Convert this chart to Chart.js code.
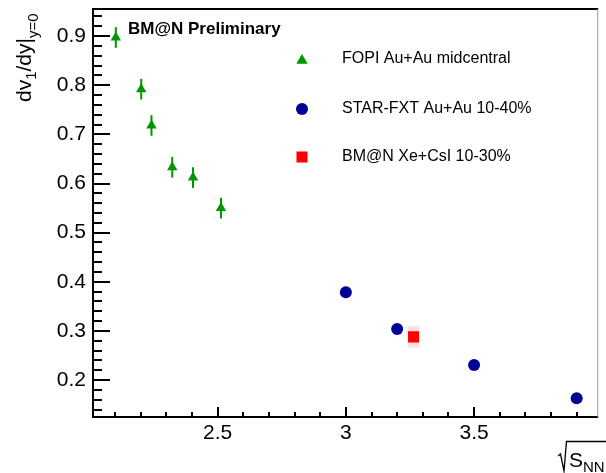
<!DOCTYPE html>
<html><head><meta charset="utf-8">
<script src="https://cdn.jsdelivr.net/npm/chart.js@4/dist/chart.umd.min.js"></script>
<style>html,body{margin:0;padding:0;background:#fff;overflow:hidden}#wrap{width:606px;height:473px;position:relative}</style>
</head><body><div id="wrap"><canvas id="c" width="606" height="473"></canvas></div>
<script>
// ---- data ----
const seriesNames = ["FOPI Au+Au midcentral", "STAR-FXT Au+Au 10-40%", "BM@N Xe+CsI 10-30%"];
const fopiX = [2.103, 2.202, 2.242, 2.323, 2.404, 2.513];
const fopiY = [0.897, 0.792, 0.718, 0.633, 0.612, 0.550];
const fopiErr = [0.021, 0.021, 0.021, 0.021, 0.021, 0.021];
const starX = [3.0, 3.2, 3.5, 3.9];
const starY = [0.379, 0.304, 0.231, 0.163];
const bmnX = [3.264];
const bmnY = [0.288];
const bmnSysX = [0.023];
const bmnSysY = [0.022];
const xTickLabels = [2.5, 3, 3.5];
const yTickLabels = [0.2, 0.3, 0.4, 0.5, 0.6, 0.7, 0.8, 0.9];
const titleText = "BM@N Preliminary";

const GREEN = "rgb(0,150,0)", NAVY = "rgb(0,0,150)", RED = "rgb(255,0,0)";
const FONT = "'Liberation Sans', Arial, Helvetica, sans-serif";

const toPts = (xs, ys) => xs.map((x, i) => ({x: x, y: ys[i]}));

const decor = {
  id: "decor",
  beforeDatasetsDraw(chart) {
    const ctx = chart.ctx, xs = chart.scales.x, ys = chart.scales.y;
    ctx.save();
    ctx.fillStyle = "rgba(255,0,0,0.12)";
    bmnX.forEach((x, i) => {
      const l = xs.getPixelForValue(x - bmnSysX[i]), r = xs.getPixelForValue(x + bmnSysX[i]);
      const t = ys.getPixelForValue(bmnY[i] + bmnSysY[i]), b = ys.getPixelForValue(bmnY[i] - bmnSysY[i]);
      ctx.fillRect(l, t, r - l, b - t);
    });
    ctx.strokeStyle = GREEN; ctx.lineWidth = 2;
    fopiX.forEach((x, i) => {
      const px = xs.getPixelForValue(x);
      ctx.beginPath();
      ctx.moveTo(px, ys.getPixelForValue(fopiY[i] + fopiErr[i]));
      ctx.lineTo(px, ys.getPixelForValue(fopiY[i] - fopiErr[i]));
      ctx.stroke();
    });
    ctx.restore();
  },
  afterDraw(chart) {
    const ctx = chart.ctx, xs = chart.scales.x, ys = chart.scales.y, ca = chart.chartArea;
    ctx.save();
    ctx.strokeStyle = "#000"; ctx.lineWidth = 2;
    ctx.beginPath();
    ctx.moveTo(ca.right, ca.top); ctx.lineTo(ca.left, ca.top); ctx.lineTo(ca.left, ca.bottom); ctx.lineTo(ca.right, ca.bottom);
    ctx.stroke();
    ctx.strokeStyle = "#999"; ctx.lineWidth = 1;
    ctx.beginPath(); ctx.moveTo(ca.right - 0.5, ca.top); ctx.lineTo(ca.right - 0.5, ca.bottom); ctx.stroke();
    ctx.strokeStyle = "#000"; ctx.lineWidth = 2;
    for (let k = 21; k <= 39; k++) {
      const v = k / 10, px = Math.round(xs.getPixelForValue(v));
      const len = (k % 5 === 0) ? 10 : 5;
      ctx.beginPath(); ctx.moveTo(px, ca.bottom); ctx.lineTo(px, ca.bottom - len); ctx.stroke();
    }
    for (let k = 7; k <= 47; k++) {
      const v = k / 50, py = Math.round(ys.getPixelForValue(v));
      const len = (k % 5 === 0) ? 17 : 9;
      ctx.beginPath(); ctx.moveTo(ca.left, py); ctx.lineTo(ca.left + len, py); ctx.stroke();
    }
    ctx.fillStyle = "#000";
    ctx.font = "bold 17px " + FONT; ctx.textBaseline = "middle"; ctx.textAlign = "left";
    ctx.fillText(titleText, 128, 29);
    const lx = 302, tx = 342, lys = [59, 109, 157];
    const styles = [["triangle", GREEN, 6.5], ["circle", NAVY, 6], ["rect", RED, 7.8]];
    ctx.font = "16px " + FONT;
    styles.forEach((s, i) => {
      ctx.fillStyle = s[1]; ctx.strokeStyle = s[1]; ctx.lineWidth = 0;
      Chart.helpers.drawPoint(ctx, {pointStyle: s[0], radius: s[2], borderWidth: 0}, lx, lys[i] + (s[0] === "triangle" ? 1.5 : 0));
      ctx.fillStyle = "#000";
      ctx.fillText(seriesNames[i], tx, lys[i]);
    });
    ctx.save();
    ctx.translate(31, 102); ctx.rotate(-Math.PI / 2);
    ctx.fillStyle = "#000"; ctx.textBaseline = "alphabetic"; ctx.textAlign = "left";
    let x = 0;
    const big = "21px " + FONT, small = "15px " + FONT;
    const parts = [["dv", big, 0], ["1", small, 5], ["/dy|", big, 0], ["y=0", small, 7]];
    parts.forEach(p => { ctx.font = p[1]; ctx.fillText(p[0], x, p[2]); x += ctx.measureText(p[0]).width; });
    ctx.restore();
    ctx.save();
    ctx.strokeStyle = "#000"; ctx.lineWidth = 1.3;
    ctx.beginPath();
    ctx.moveTo(558, 456); ctx.lineTo(560.5, 454); ctx.lineTo(564, 471); ctx.lineTo(566.5, 441.5); ctx.lineTo(606, 441.5);
    ctx.stroke();
    ctx.fillStyle = "#000"; ctx.textBaseline = "alphabetic"; ctx.textAlign = "left";
    ctx.font = "21px " + FONT; ctx.fillText("S", 569, 467);
    ctx.font = "15px " + FONT; ctx.fillText("NN", 583, 472);
    ctx.restore();
    ctx.restore();
  }
};

new Chart(document.getElementById("c"), {
  type: "scatter",
  data: {
    datasets: [
      {label: seriesNames[0], data: toPts(fopiX, fopiY), pointStyle: "triangle", pointRadius: 6, backgroundColor: GREEN, borderWidth: 0},
      {label: seriesNames[1], data: toPts(starX, starY), pointStyle: "circle", pointRadius: 6, backgroundColor: NAVY, borderWidth: 0},
      {label: seriesNames[2], data: toPts(bmnX, bmnY), pointStyle: "rect", pointRadius: 7.8, backgroundColor: RED, borderWidth: 0}
    ]
  },
  options: {
    responsive: false, animation: false, devicePixelRatio: 1,
    layout: {padding: {top: 9, right: 1, left: 0, bottom: 0}},
    plugins: {legend: {display: false}, tooltip: {enabled: false}},
    elements: {point: {hoverRadius: 6}},
    scales: {
      x: {
        type: "linear", min: 2.014, max: 3.984,
        grid: {display: false, drawTicks: false}, border: {display: false},
        afterBuildTicks: s => { s.ticks = xTickLabels.map(v => ({value: v})); },
        afterFit: s => { s.height = 56; s.paddingLeft = 0; s.paddingRight = 0; },
        ticks: {padding: 4, color: "#000", font: {family: FONT, size: 21}, maxRotation: 0, callback: v => String(v)}
      },
      y: {
        type: "linear", min: 0.125, max: 0.955,
        grid: {display: false, drawTicks: false}, border: {display: false},
        afterBuildTicks: s => { s.ticks = yTickLabels.map(v => ({value: v})); },
        afterFit: s => { s.width = 93; s.paddingTop = 0; s.paddingBottom = 0; },
        ticks: {padding: 7, color: "#000", font: {family: FONT, size: 21}, callback: v => v.toFixed(1)}
      }
    }
  },
  plugins: [decor]
});
</script></body></html>
